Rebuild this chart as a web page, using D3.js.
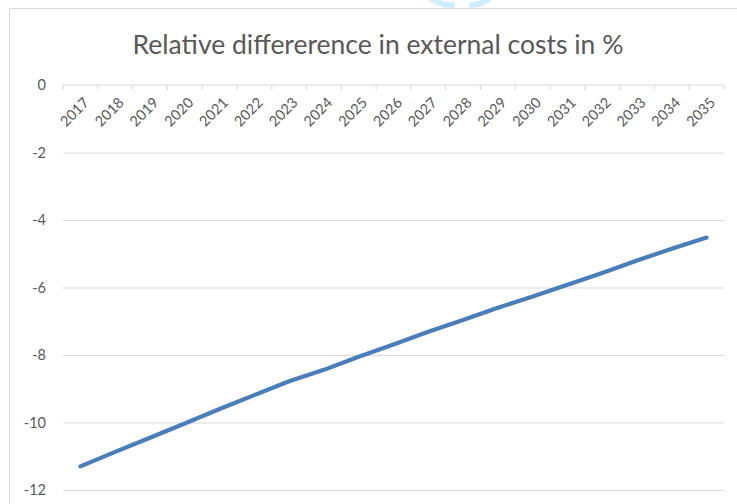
<!DOCTYPE html>
<html>
<head>
<meta charset="utf-8">
<script src="https://cdn.jsdelivr.net/npm/d3@7"></script>
<style>
html,body{margin:0;padding:0;background:#fff;}
svg{display:block;}
text{font-family:Lato,"Open Sans",sans-serif;fill:#595959;}
</style>
</head>
<body>
<svg id="chart" width="737" height="504"></svg>
<script>
const title = "Relative differerence in external costs in %";
const years = ["2017","2018","2019","2020","2021","2022","2023","2024","2025","2026","2027","2028","2029","2030","2031","2032","2033","2034","2035"];
const values = [-11.3,-10.87,-10.45,-10.03,-9.6,-9.19,-8.78,-8.44,-8.05,-7.69,-7.31,-6.96,-6.6,-6.27,-5.92,-5.57,-5.2,-4.85,-4.52];
const yTicks = [0,-2,-4,-6,-8,-10,-12];

const svg = d3.select("#chart");
const W = 737, H = 504;
const plot = {left:63, right:724, top:85, bottom:490};

// chart border (partial, as cropped)
svg.append("path")
  .attr("d", `M9.5,${H} L9.5,8.5 L${W},8.5`)
  .attr("fill","none").attr("stroke","#d9d9d9").attr("stroke-width",1);

// watermark fragment
const wm = svg.append("g").attr("fill","none").attr("stroke","#cfeefb").attr("stroke-width",6).attr("stroke-linecap","round");
wm.append("path").attr("d","M428,-4 Q440,6 452,5");
wm.append("path").attr("d","M472,5 Q486,4 494,-6");

const x = d3.scaleBand().domain(years).range([plot.left, plot.right]);
const y = d3.scaleLinear().domain([-12,0]).range([plot.bottom, plot.top]);

// gridlines
svg.append("g")
  .attr("transform",`translate(${plot.left},0)`)
  .call(d3.axisLeft(y).tickValues(yTicks.filter(v=>v!==0)).tickSize(-(plot.right-plot.left)).tickFormat(""))
  .call(g=>g.select(".domain").remove())
  .call(g=>g.selectAll("line").attr("stroke","#d9d9d9").attr("stroke-width",1.2));

// y labels
svg.append("g")
  .attr("transform",`translate(${plot.left},0)`)
  .call(d3.axisLeft(y).tickValues(yTicks).tickSize(0).tickPadding(17).tickFormat(d=>String(d)))
  .call(g=>g.select(".domain").remove())
  .call(g=>g.selectAll("text").attr("font-size","14.5px").attr("fill","#595959").style("font-family","Lato,'Open Sans',sans-serif"));

// zero axis with ticks at category boundaries
const zeroY = y(0);
const xg = svg.append("g").attr("class","xaxis");
xg.append("line").attr("x1",plot.left).attr("x2",plot.right).attr("y1",zeroY).attr("y2",zeroY)
  .attr("stroke","#d9d9d9").attr("stroke-width",1.2);
const bounds = years.map(d=>x(d)).concat([x(years[years.length-1])+x.bandwidth()]);
xg.selectAll("line.tk").data(bounds).enter().append("line").attr("class","tk")
  .attr("x1",d=>d).attr("x2",d=>d).attr("y1",zeroY).attr("y2",zeroY+5)
  .attr("stroke","#d9d9d9").attr("stroke-width",1.2);

// x labels rotated
xg.selectAll("text.xl").data(years).enter().append("text").attr("class","xl")
  .attr("transform",d=>`translate(${x(d)+x.bandwidth()/2+6},${zeroY+15}) rotate(-45)`)
  .attr("text-anchor","end").attr("dy","0.35em")
  .attr("font-size","14.5px")
  .text(d=>d);

// line
const line = d3.line().x((d,i)=>x(years[i])+x.bandwidth()/2).y(d=>y(d));
svg.append("path").datum(values)
  .attr("d",line).attr("fill","none")
  .attr("stroke","#4a7ebb").attr("stroke-width",4.2)
  .attr("stroke-linecap","round").attr("stroke-linejoin","round");

// title
svg.append("text").attr("x",378).attr("y",54).attr("text-anchor","middle")
  .attr("font-size","26.5px").text(title);
</script>
</body>
</html>
